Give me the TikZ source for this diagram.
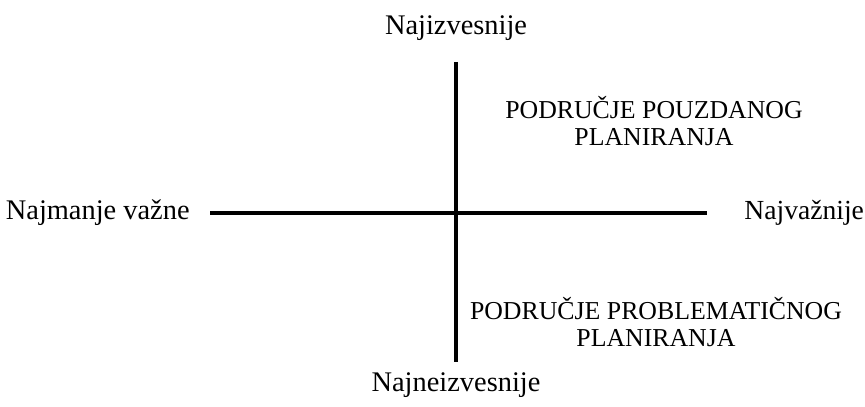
\documentclass[tikz,border=0pt]{standalone}
\usepackage{fontspec}
\setmainfont{Liberation Serif}
\usepackage{tikz}

\begin{document}
\begin{tikzpicture}[x=0.5pt, y=-0.5pt, every node/.style={font=\fontsize{14.2}{14}\selectfont, inner sep=0pt}, align=center]
            \useasboundingbox (0,0) rectangle (865,406);
            % Define axis ends
            \coordinate (top) at (456,62);
            \coordinate (bottom) at (456,362);
            \coordinate (left) at (210,213);
            \coordinate (right) at (707,213);

            % Draw axes
            \draw[line width=2pt] (top) -- (bottom);
            \draw[line width=2pt] (left) -- (right);

            % Labels
            \node (certain) at (456,28) {Najizvesnije};
            \node (uncertain) at (456,385) {Najneizvesnije};
            \node (leastimp) [anchor=east] at (190,213) {Najmanje važne};
            \node (mostimp) [anchor=west, font=\fontsize{13.8}{14}\selectfont] at (744,213) {Najvažnije};

            \node (reliable) [font=\fontsize{12.9}{13.2}\selectfont] at (654,121) {PODRUČJE POUZDANOG\\PLANIRANJA};
            \node (problem) [font=\fontsize{12.9}{13.2}\selectfont] at (656,322) {PODRUČJE PROBLEMATIČNOG\\PLANIRANJA};
        \end{tikzpicture}
\end{document}
